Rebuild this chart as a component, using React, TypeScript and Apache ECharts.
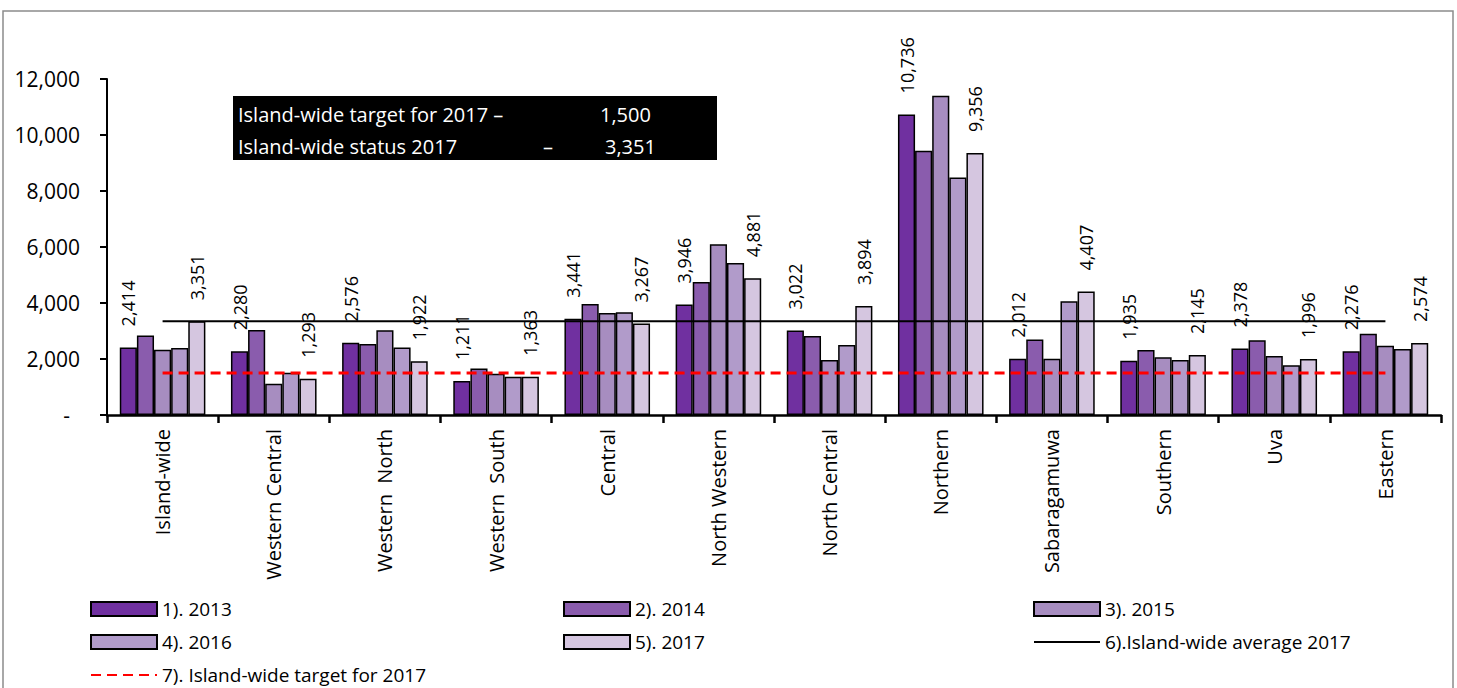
import React, { useEffect, useRef } from "react";
import * as echarts from "echarts";

const categories = [
  "Island-wide",
  "Western Central",
  "Western  North",
  "Western  South",
  "Central",
  "North Western",
  "North Central",
  "Northern",
  "Sabaragamuwa",
  "Southern",
  "Uva",
  "Eastern",
];
const y2013 = [2414, 2280, 2576, 1211, 3441, 3946, 3022, 10736, 2012, 1935, 2378, 2276];
const y2014 = [2840, 3040, 2540, 1660, 3960, 4750, 2820, 9440, 2700, 2320, 2670, 2900];
const y2015 = [2330, 1115, 3030, 1470, 3640, 6100, 1960, 11400, 2010, 2060, 2110, 2470];
const y2016 = [2390, 1510, 2410, 1370, 3670, 5430, 2500, 8480, 4060, 1960, 1780, 2360];
const y2017 = [3351, 1293, 1922, 1363, 3267, 4881, 3894, 9356, 4407, 2145, 1996, 2574];
const avg2017 = [3351, 3351, 3351, 3351, 3351, 3351, 3351, 3351, 3351, 3351, 3351, 3351];
const target2017 = [1500, 1500, 1500, 1500, 1500, 1500, 1500, 1500, 1500, 1500, 1500, 1500];
const yTicks = [0, 2000, 4000, 6000, 8000, 10000, 12000];

const seriesNames = [
  "1). 2013",
  "2). 2014",
  "3). 2015",
  "4). 2016",
  "5). 2017",
  "6).Island-wide average 2017",
  "7). Island-wide target for 2017",
];
const barColors = ["#7030A0", "#8A5CAD", "#A78DC0", "#B19BCA", "#D5C6E0"];

const FONT = "Open Sans";

export default function App() {
  const ref = useRef<HTMLDivElement>(null);
  useEffect(() => {
    if (!ref.current) return;
    const chart = echarts.init(ref.current, null, { renderer: "svg" });
    const fmt = (v: number) => v.toLocaleString("en-US");
    const barData = [y2013, y2014, y2015, y2016, y2017];
    const bars = barData.map((d, i) => ({
      name: seriesNames[i],
      type: "bar",
      data: d,
      barGap: "0%",
      barCategoryGap: "23%",
      itemStyle: { color: barColors[i], borderColor: "#000", borderWidth: 1.5 },
      label: {
        show: i === 0 || i === 4,
        position: "top",
        rotate: 90,
        align: "left",
        verticalAlign: "middle",
        distance: 21,
        fontFamily: FONT,
        fontSize: 18,
        color: "#000",
        formatter: (p: any) => fmt(p.value),
      },
      z: 2,
    }));
    // legend slots: [series index, left, top]
    const legendSlots: [number, number, number][] = [
      [0, 90, 599],
      [1, 563, 599],
      [2, 1033, 599],
      [3, 90, 632],
      [4, 563, 632],
      [5, 1033, 632],
      [6, 90, 665],
    ];
    const legends = legendSlots.map(([si, left, top]) => ({
      left,
      top,
      padding: 0,
      orient: "horizontal",
      itemWidth: 66,
      itemHeight: 14,
      selectedMode: false,
      textStyle: { fontFamily: FONT, fontSize: 19, color: "#000", lineHeight: 20 },
      data: [
        si < 5
          ? { name: seriesNames[si], icon: "rect" }
          : { name: seriesNames[si], itemStyle: { color: "rgba(0,0,0,0)", borderWidth: 0, opacity: 0 } },
      ],
    }));
    chart.setOption({
      animation: false,
      backgroundColor: "#fff",
      grid: { left: 107, right: 16, top: 79, bottom: 273, containLabel: false },
      legend: legends,
      xAxis: {
        type: "category",
        data: categories,
        axisLine: { lineStyle: { color: "#000", width: 2.5 } },
        axisTick: { show: true, length: 8, interval: 0, lineStyle: { color: "#000", width: 2.5 } },
        axisLabel: {
          interval: 0,
          rotate: 90,
          margin: 14,
          fontFamily: FONT,
          fontSize: 20,
          color: "#000",
        },
      },
      yAxis: {
        type: "value",
        min: yTicks[0],
        max: yTicks[yTicks.length - 1],
        interval: 2000,
        axisLine: { show: true, lineStyle: { color: "#000", width: 2 } },
        axisTick: { show: true, length: 7, lineStyle: { color: "#000", width: 2 } },
        splitLine: { show: false },
        axisLabel: {
          margin: 27,
          fontFamily: FONT,
          fontSize: 21,
          color: "#000",
          formatter: (v: number) => (v === 0 ? "{d|-}" : fmt(v)),
          rich: { d: { fontFamily: FONT, fontSize: 21, color: "#000", padding: [0, 10, 0, 0] } },
        },
      },
      series: [
        ...bars,
        {
          name: seriesNames[5],
          type: "line",
          data: avg2017,
          symbol: "none",
          lineStyle: { color: "#000", width: 2 },
          itemStyle: { color: "#000" },
          z: 5,
        },
        {
          name: seriesNames[6],
          type: "line",
          data: target2017,
          symbol: "none",
          lineStyle: { color: "#FF0000", width: 3, type: [10, 6] },
          itemStyle: { color: "#FF0000" },
          z: 5,
        },
      ],
      graphic: [
        {
          type: "rect",
          silent: true,
          shape: { x: 3, y: 11, width: 1450, height: 700 },
          style: { fill: "none", stroke: "#8c8c8c", lineWidth: 1.5 },
        },
        {
          type: "rect",
          silent: true,
          shape: { x: 233, y: 96, width: 484, height: 64 },
          style: { fill: "#000" },
          z: 10,
        },
        { type: "text", x: 238, y: 114, z: 11, style: { text: "Island-wide target for 2017 –", fill: "#fff", font: `20px "${FONT}"`, verticalAlign: "middle" } },
        { type: "text", x: 600, y: 114, z: 11, style: { text: "1,500", fill: "#fff", font: `20px "${FONT}"`, verticalAlign: "middle" } },
        { type: "text", x: 238, y: 146, z: 11, style: { text: "Island-wide status 2017", fill: "#fff", font: `20px "${FONT}"`, verticalAlign: "middle" } },
        { type: "text", x: 543, y: 146, z: 11, style: { text: "–", fill: "#fff", font: `20px "${FONT}"`, verticalAlign: "middle" } },
        { type: "text", x: 605, y: 146, z: 11, style: { text: "3,351", fill: "#fff", font: `20px "${FONT}"`, verticalAlign: "middle" } },
      ],
    });
    return () => chart.dispose();
  }, []);
  return (
    <div
      ref={ref}
      style={{ position: "fixed", left: 0, top: 0, width: 1457, height: 688, background: "#fff" }}
    />
  );
}
